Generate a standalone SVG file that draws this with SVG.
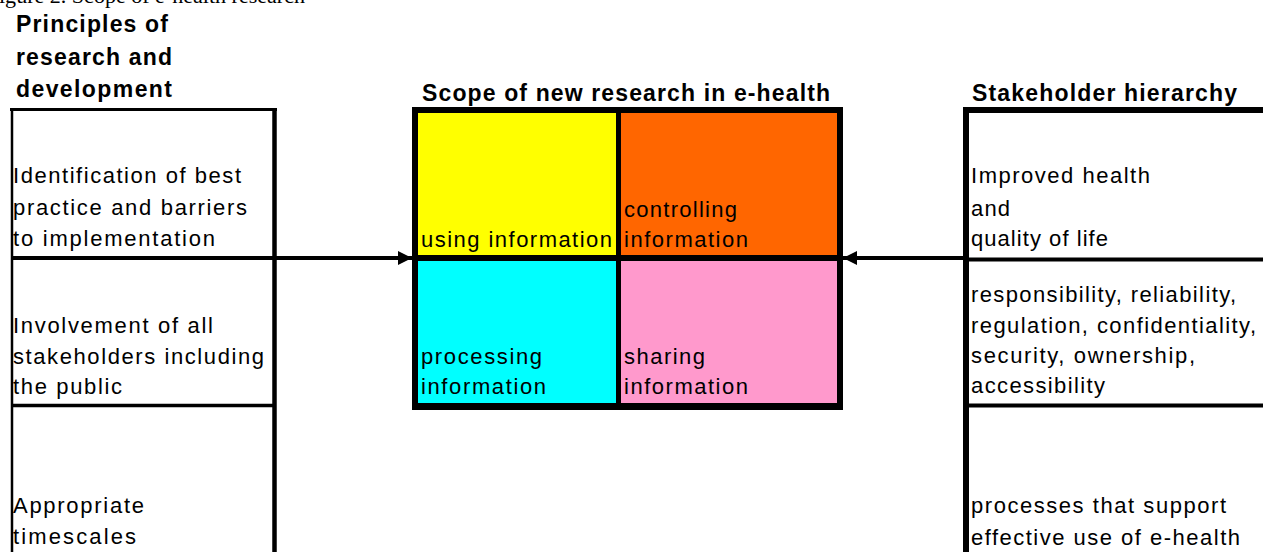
<svg xmlns="http://www.w3.org/2000/svg" width="1263" height="552" viewBox="0 0 1263 552">
<style>
.t{font-family:"Liberation Sans",Arial,sans-serif;font-size:22px;fill:#000}
.h{font-family:"Liberation Sans",Arial,sans-serif;font-size:23px;font-weight:bold;fill:#000}
.cap{font-family:"Liberation Serif","Times New Roman",serif;font-size:20px;fill:#000}
.ln{stroke:#000;fill:none}
.conn{stroke:#000;stroke-width:4;fill:none}
</style>
<defs>
<marker id="ah" markerUnits="userSpaceOnUse" markerWidth="16" markerHeight="16" refX="14" refY="7" orient="auto">
<path d="M0,0 L14,7 L0,14 Z" fill="#000"/>
</marker>
</defs>
<rect width="1263" height="552" fill="#fff"/>
<text class="cap" x="-1" y="2.5" textLength="306" lengthAdjust="spacingAndGlyphs">igure 2. Scope of e-health research</text>

<g id="principles">
<text class="h" x="16" y="32" textLength="152">Principles of</text>
<text class="h" x="16" y="65" textLength="156">research and</text>
<text class="h" x="16" y="97" textLength="156">development</text>
<line class="ln" x1="10" y1="109.5" x2="277" y2="109.5" stroke-width="3"/>
<line class="ln" x1="12" y1="108" x2="12" y2="560" stroke-width="2.5"/>
<line class="ln" x1="274.5" y1="108" x2="274.5" y2="560" stroke-width="4.5"/>
<line class="ln" x1="11" y1="258" x2="276" y2="258" stroke-width="4"/>
<line class="ln" x1="11" y1="405.5" x2="276" y2="405.5" stroke-width="3.5"/>
</g>
<g id="p1">
<text class="t" x="13" y="183" textLength="228">Identification of best</text>
<text class="t" x="13" y="215" textLength="234">practice and barriers</text>
<text class="t" x="13" y="246" textLength="202">to implementation</text>
</g>
<g id="p2">
<text class="t" x="13" y="333" textLength="200">Involvement of all</text>
<text class="t" x="13" y="364" textLength="251">stakeholders including</text>
<text class="t" x="13" y="394" textLength="109">the public</text>
</g>
<g id="p3">
<text class="t" x="13" y="513" textLength="131">Appropriate</text>
<text class="t" x="13" y="544" textLength="123">timescales</text>
</g>

<g id="scope">
<text class="h" x="422" y="101" textLength="408">Scope of new research in e-health</text>
<rect x="412" y="107" width="431" height="303" fill="#000"/>
</g>
<g id="using">
<rect x="418" y="113" width="198" height="142" fill="#FFFF00"/>
<text class="t" x="421" y="247" textLength="191">using information</text>
</g>
<g id="controlling">
<rect x="621" y="113" width="216" height="142" fill="#FF6600"/>
<text class="t" x="624" y="217" textLength="113">controlling</text>
<text class="t" x="624" y="247" textLength="124">information</text>
</g>
<g id="processing">
<rect x="418" y="261" width="198" height="142" fill="#00FFFF"/>
<text class="t" x="421" y="364" textLength="121">processing</text>
<text class="t" x="421" y="394" textLength="125">information</text>
</g>
<g id="sharing">
<rect x="621" y="261" width="216" height="142" fill="#FF99CC"/>
<text class="t" x="624" y="364" textLength="81">sharing</text>
<text class="t" x="624" y="394" textLength="124">information</text>
</g>

<g id="stakeholders">
<text class="h" x="972" y="101" textLength="265">Stakeholder hierarchy</text>
<line class="ln" x1="963" y1="110" x2="1263" y2="110" stroke-width="6"/>
<line class="ln" x1="966" y1="107" x2="966" y2="560" stroke-width="6"/>
<line class="ln" x1="963" y1="259.5" x2="1263" y2="259.5" stroke-width="4"/>
<line class="ln" x1="963" y1="405.5" x2="1263" y2="405.5" stroke-width="4"/>
</g>
<g id="s1">
<text class="t" x="971" y="183" textLength="179">Improved health</text>
<text class="t" x="971" y="216" textLength="39">and</text>
<text class="t" x="971" y="246" textLength="137">quality of life</text>
</g>
<g id="s2">
<text class="t" x="971" y="302" textLength="265">responsibility, reliability,</text>
<text class="t" x="971" y="333" textLength="285">regulation, confidentiality,</text>
<text class="t" x="971" y="363" textLength="224">security, ownership,</text>
<text class="t" x="971" y="393" textLength="134">accessibility</text>
</g>
<g id="s3">
<text class="t" x="971" y="513" textLength="255">processes that support</text>
<text class="t" x="971" y="545" textLength="269">effective use of e-health</text>
</g>

<g id="connectors">
<line class="conn" x1="276" y1="258" x2="412" y2="258" marker-end="url(#ah)"/>
<line class="conn" x1="964" y1="258" x2="843" y2="258" marker-end="url(#ah)"/>
</g>
</svg>
